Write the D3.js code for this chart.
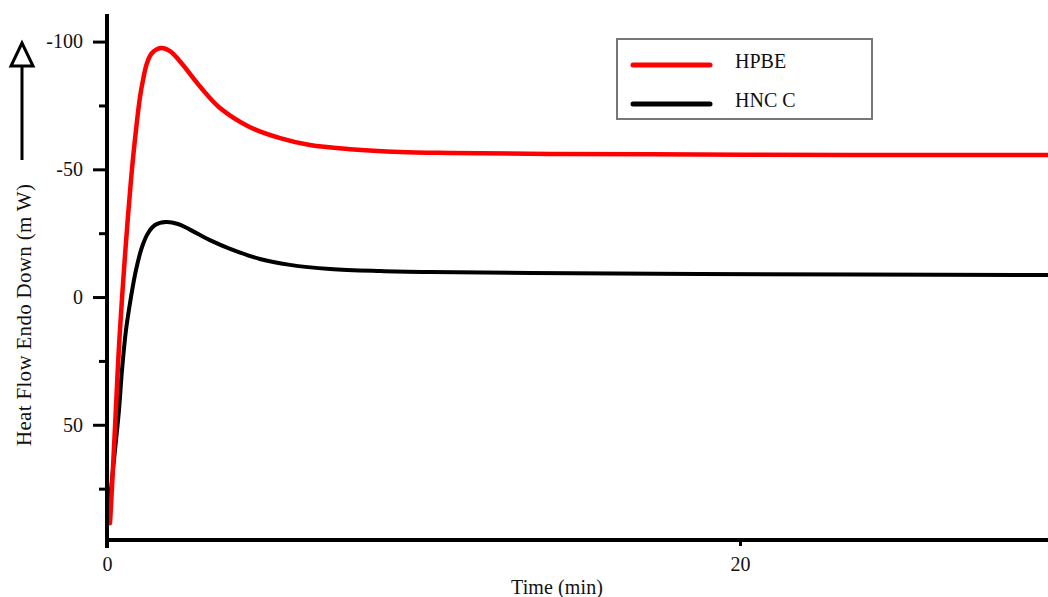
<!DOCTYPE html>
<html><head><meta charset="utf-8">
<script src="https://cdn.jsdelivr.net/npm/d3@7"></script>
<style>
html,body{margin:0;padding:0;background:#fff;}
svg{display:block;}
text{font-family:"Liberation Serif","Times New Roman",serif;fill:#111;}
</style></head>
<body>
<svg id="chart" width="1048" height="597"></svg>
<script>
// Data (time in min, heat flow in mW; negative = up)
const seriesNames = ["HPBE", "HNC C"];
const seriesColors = ["#ff0000", "#000000"];
const hpbeTime = [0.095,0.158,0.253,0.41,0.758,0.916,1.043,1.137,1.264,1.42,1.706,1.99,2.31,2.94,3.57,4.52,5.47,6.41,7.68,9.26,10.84,14.0,18.7,23.5,29.8];
const hpbeFlow = [88.5,74.4,50.9,12.9,-45.8,-65.4,-78.3,-84.9,-91.6,-95.5,-97.5,-96.3,-92.2,-82.4,-74.0,-66.5,-62.2,-59.5,-57.9,-56.8,-56.4,-56.0,-55.8,-55.6,-55.6];
const hncTime = [0.063,0.126,0.253,0.379,0.474,0.600,0.758,0.916,1.106,1.295,1.517,1.864,2.243,2.62,3.25,3.89,4.83,5.78,7.05,8.63,10.2,13.4,18.7,29.8];
const hncFlow = [87.3,75.5,59.9,44.2,28.6,12.9,0,-10.6,-19.6,-25.0,-28.2,-29.4,-28.6,-26.4,-22.3,-18.9,-14.9,-12.6,-11.0,-10.2,-9.8,-9.4,-9.0,-8.6];
const yMajorTicks = [-100, -50, 0, 50];
const yMinorTicks = [-75, -25, 25, 75];
const xTicks = [0, 20];
const xLabel = "Time (min)";
const yLabel = "Heat Flow Endo Down (m W)";

const svg = d3.select("#chart");
const x = d3.scaleLinear().domain([0, 29.73]).range([107, 1048]);
const y = d3.scaleLinear().domain([-110.8, 95.1]).range([14, 540]);

// curves
const line = d3.line().x(d => x(d[0])).y(d => y(d[1])).curve(d3.curveCatmullRom.alpha(0.5));
const series = [
  {name: seriesNames[0], color: seriesColors[0], pts: d3.zip(hpbeTime, hpbeFlow), w: 4.5},
  {name: seriesNames[1], color: seriesColors[1], pts: d3.zip(hncTime, hncFlow), w: 4}
];
svg.append("defs").append("clipPath").attr("id","clip")
  .append("rect").attr("x",107).attr("y",0).attr("width",941).attr("height",540);
const g = svg.append("g").attr("clip-path","url(#clip)");
g.selectAll("path.s").data(series.slice().reverse()).join("path")
  .attr("class","s").attr("d", d => line(d.pts))
  .attr("fill","none").attr("stroke", d => d.color).attr("stroke-width", d => d.w)
  .attr("stroke-linejoin","round").attr("stroke-linecap","round");

// y axis
const yAxis = svg.append("g").attr("transform","translate(107,0)")
  .call(d3.axisLeft(y).tickValues(yMajorTicks).tickSize(14).tickPadding(10).tickFormat(d => d < 0 ? "-" + Math.abs(d) : d));
yAxis.select(".domain").remove();
yAxis.selectAll(".tick line").attr("stroke","#000").attr("stroke-width",3);
yAxis.selectAll(".tick text").attr("font-size",20).attr("font-family","Liberation Serif, serif").attr("fill","#111");
const yMinor = svg.append("g").attr("transform","translate(107,0)")
  .call(d3.axisLeft(y).tickValues(yMinorTicks).tickSize(8).tickFormat(""));
yMinor.select(".domain").remove();
yMinor.selectAll(".tick line").attr("stroke","#000").attr("stroke-width",3);
svg.append("line").attr("x1",107).attr("x2",107).attr("y1",14).attr("y2",548)
  .attr("stroke","#000").attr("stroke-width",4);

// x axis
const xAxis = svg.append("g").attr("transform","translate(0,540)")
  .call(d3.axisBottom(x).tickValues(xTicks).tickSize(6).tickPadding(11));
xAxis.select(".domain").remove();
xAxis.selectAll(".tick line").attr("stroke","#000").attr("stroke-width",3);
xAxis.selectAll(".tick text").attr("font-size",20).attr("font-family","Liberation Serif, serif").attr("fill","#111");
svg.append("line").attr("x1",107).attr("x2",1048).attr("y1",540).attr("y2",540)
  .attr("stroke","#000").attr("stroke-width",4);

// axis titles
svg.append("text").attr("x",557).attr("y",594).attr("text-anchor","middle")
  .attr("font-size",20).attr("textLength",92).text(xLabel);
svg.append("text").attr("transform","translate(31,315) rotate(-90)").attr("text-anchor","middle")
  .attr("font-size",21).attr("textLength",262).text(yLabel);

// arrow
svg.append("line").attr("x1",22).attr("x2",22).attr("y1",64).attr("y2",160)
  .attr("stroke","#000").attr("stroke-width",3);
svg.append("path").attr("d","M22,43 L11,66 L33,66 Z").attr("fill","#fff")
  .attr("stroke","#000").attr("stroke-width",3).attr("stroke-linejoin","miter");

// legend
const lg = svg.append("g");
lg.append("rect").attr("x",617).attr("y",39).attr("width",255).attr("height",80)
  .attr("fill","#fff").attr("stroke","#777").attr("stroke-width",2);
const legY = [65, 104];
series.forEach((s, i) => {
  lg.append("line").attr("x1",633).attr("x2",710).attr("y1",legY[i]).attr("y2",legY[i])
    .attr("stroke", s.color).attr("stroke-width",5).attr("stroke-linecap","round");
  lg.append("text").attr("x",735).attr("y",legY[i] + 3).attr("font-size",20).text(s.name);
});
</script>
</body></html>
